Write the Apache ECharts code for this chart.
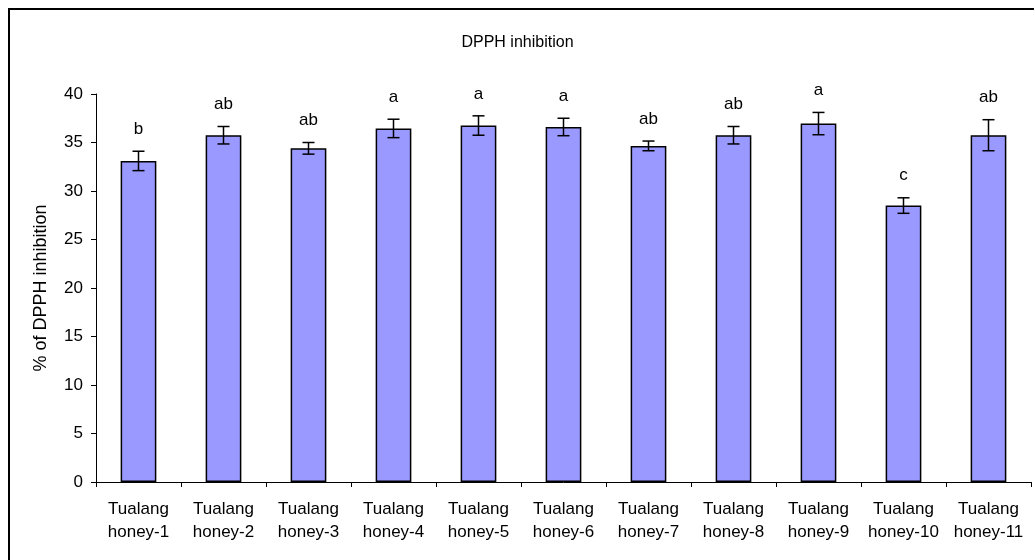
<!DOCTYPE html>
<html>
<head>
<meta charset="utf-8">
<script src="https://cdn.jsdelivr.net/npm/echarts@6/dist/echarts.min.js"></script>
<style>
  html, body { margin: 0; padding: 0; background: #fff; overflow: hidden; }
  #chart { width: 1035px; height: 560px; }
</style>
</head>
<body>
<div id="chart"></div>
<script>
// data
var categories = ['Tualang\nhoney-1', 'Tualang\nhoney-2', 'Tualang\nhoney-3', 'Tualang\nhoney-4',
  'Tualang\nhoney-5', 'Tualang\nhoney-6', 'Tualang\nhoney-7', 'Tualang\nhoney-8',
  'Tualang\nhoney-9', 'Tualang\nhoney-10', 'Tualang\nhoney-11'];
var means = [33.1, 35.75, 34.4, 36.45, 36.75, 36.6, 34.65, 35.75, 36.95, 28.5, 35.75];
var errors = [1.0, 0.9, 0.6, 0.95, 1.0, 0.9, 0.5, 0.9, 1.15, 0.8, 1.6];
var letters = ['b', 'ab', 'ab', 'a', 'a', 'a', 'ab', 'ab', 'a', 'c', 'ab'];
var yTicks = [0, 40, 5]; // min, max, step

var FONT = 'Liberation Sans, Arial, sans-serif';

var errData = [];
for (var i = 0; i < means.length; i++) {
  errData.push([i, means[i] - errors[i], means[i] + errors[i], letters[i]]);
}

var myChart = echarts.init(document.getElementById('chart'));

var option = {
  animation: false,
  backgroundColor: '#fff',
  title: {
    text: 'DPPH inhibition',
    left: 'center',
    top: 30,
    textStyle: { fontFamily: FONT, fontSize: 16, fontWeight: 'normal', color: '#000' }
  },
  // outer frame: only top and left edges show in the picture
  graphic: [
    { type: 'line', shape: { x1: 8, y1: 9, x2: 1034, y2: 9 }, style: { stroke: '#000', lineWidth: 2 }, silent: true },
    { type: 'line', shape: { x1: 9, y1: 8, x2: 9, y2: 560 }, style: { stroke: '#000', lineWidth: 2 }, silent: true }
  ],
  grid: { left: 96, right: 4, top: 94, bottom: 78 },
  xAxis: {
    type: 'category',
    data: categories,
    axisLine: { lineStyle: { color: '#000', width: 1 } },
    axisTick: { show: true, length: 5, lineStyle: { color: '#000' } },
    axisLabel: {
      interval: 0, margin: 16, lineHeight: 23,
      fontFamily: FONT, fontSize: 17, color: '#000'
    }
  },
  yAxis: {
    type: 'value',
    min: yTicks[0], max: yTicks[1], interval: yTicks[2],
    name: '% of DPPH inhibition',
    nameLocation: 'middle',
    nameGap: 46,
    nameTextStyle: { fontFamily: FONT, fontSize: 18, color: '#000' },
    axisLine: { show: true, lineStyle: { color: '#000', width: 1 } },
    axisTick: { show: true, length: 5, lineStyle: { color: '#000' } },
    axisLabel: { margin: 13, fontFamily: FONT, fontSize: 17, color: '#000' },
    splitLine: { show: false }
  },
  series: [
    {
      type: 'bar',
      data: means,
      barWidth: '42%',
      itemStyle: { color: '#9999ff', borderColor: '#000', borderWidth: 1.5 }
    },
    {
      type: 'custom',
      data: errData,
      z: 10,
      renderItem: function (params, api) {
        var x = api.value(0);
        var lo = api.coord([x, api.value(1)]);
        var hi = api.coord([x, api.value(2)]);
        var cap = 6;
        var st = { stroke: '#000', lineWidth: 1.5 };
        return {
          type: 'group',
          children: [
            { type: 'line', shape: { x1: hi[0], y1: hi[1], x2: lo[0], y2: lo[1] }, style: st },
            { type: 'line', shape: { x1: hi[0] - cap, y1: hi[1], x2: hi[0] + cap, y2: hi[1] }, style: st },
            { type: 'line', shape: { x1: lo[0] - cap, y1: lo[1], x2: lo[0] + cap, y2: lo[1] }, style: st },
            {
              type: 'text',
              style: {
                text: api.value(3), x: hi[0], y: hi[1] - 22,
                align: 'center', verticalAlign: 'middle',
                font: '17px ' + FONT, fill: '#000'
              }
            }
          ]
        };
      }
    }
  ]
};

myChart.setOption(option);
</script>
</body>
</html>
